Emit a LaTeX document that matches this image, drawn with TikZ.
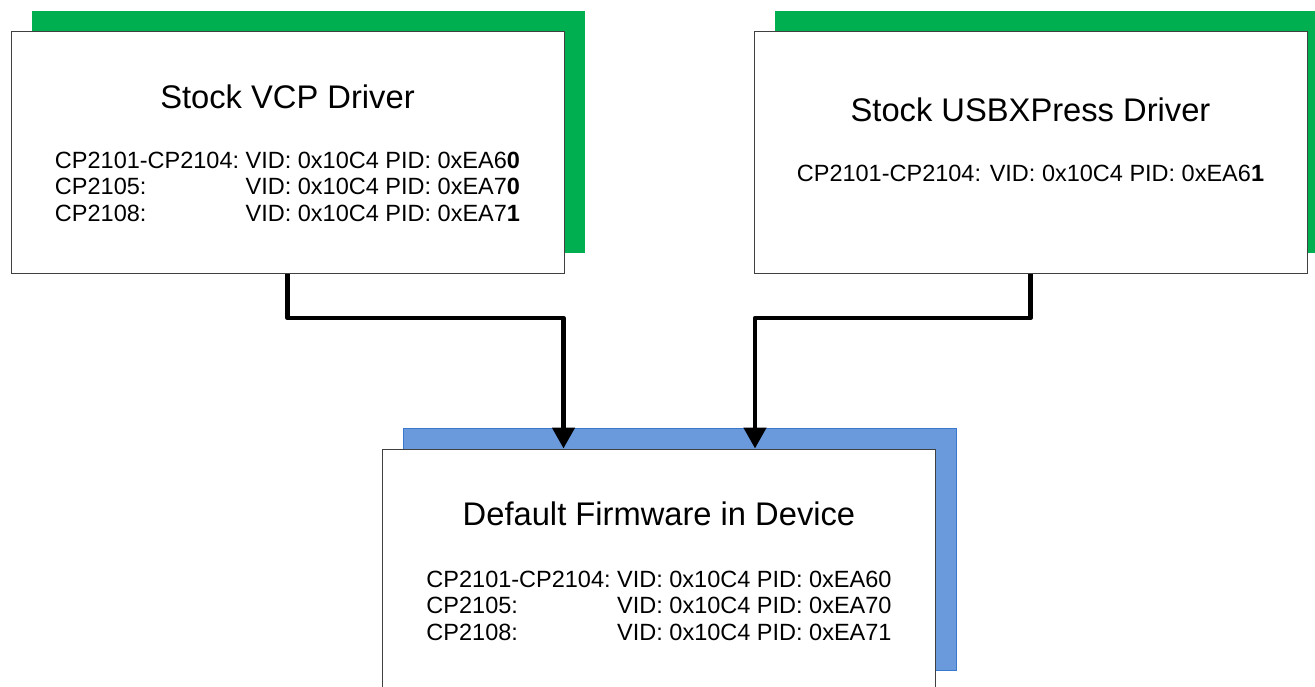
\documentclass[tikz,border=0pt]{standalone}
\usepackage{fontspec}
\setmainfont{Liberation Sans}
\usetikzlibrary{arrows.meta,shadows}

\definecolor{boxgreen}{RGB}{0,176,80}
\definecolor{boxblue}{RGB}{106,154,220}
\definecolor{edgeblue}{RGB}{58,120,205}

\tikzset{
  drvbox/.style={draw=black!75, line width=1pt, fill=white, minimum width=553pt,
    minimum height=242pt, inner sep=0pt},
  greenshadow/.style={general shadow={fill=boxgreen, shadow xshift=21pt, shadow yshift=21pt}},
  blueshadow/.style={general shadow={fill=boxblue, draw=edgeblue, line width=0.8pt,
    shadow xshift=21pt, shadow yshift=21pt}},
  boxtitle/.style={font=\fontsize{32.7}{39}\selectfont, inner sep=0pt},
  idlist/.style={font=\fontsize{23.5}{26.5}\selectfont, inner sep=0pt},
  link/.style={line width=4.7pt, line join=round, -{Triangle[width=22pt,length=21pt]}}
}

\begin{document}
\begin{tikzpicture}[x=1pt, y=-1pt]
  \useasboundingbox (0,0) rectangle (1315,687);

  % Draw the three boxes
  \node[drvbox, greenshadow] (vcp) at (287.5,153) {};
  \node[drvbox, greenshadow] (usbx) at (1030.5,153) {};
  \node[drvbox, blueshadow] (dev) at (659,570) {};

  % Stock VCP driver
  \node[boxtitle] (vcptitle) at ([yshift=-65pt]vcp.north) {Stock VCP Driver};
  \node[idlist] (vcpids) at ([yshift=-158pt]vcp.north) {%
    \begin{tabular}{@{}l@{\ }l@{}}
      CP2101-CP2104: & VID: 0x10C4 PID: 0xEA6\textbf{0}\\
      CP2105: & VID: 0x10C4 PID: 0xEA7\textbf{0}\\
      CP2108: & VID: 0x10C4 PID: 0xEA7\textbf{1}
    \end{tabular}};

  % Stock USBXPress driver
  \node[boxtitle] (usbxtitle) at ([yshift=-78pt]usbx.north) {Stock USBXPress Driver};
  \node[idlist] (usbxids) at ([yshift=-142pt]usbx.north)
    {CP2101-CP2104: VID: 0x10C4 PID: 0xEA6\textbf{1}};

  % Default firmware in the device
  \node[boxtitle] (devtitle) at ([yshift=-65pt]dev.north) {Default Firmware in Device};
  \node[idlist] (devids) at ([yshift=-160pt]dev.north) {%
    \begin{tabular}{@{}l@{\ }l@{}}
      CP2101-CP2104: & VID: 0x10C4 PID: 0xEA60\\
      CP2105: & VID: 0x10C4 PID: 0xEA70\\
      CP2108: & VID: 0x10C4 PID: 0xEA71
    \end{tabular}};

  % Connect both drivers to the device
  \coordinate (vcpin) at ([xshift=-95.5pt]dev.north);
  \coordinate (usbxin) at ([xshift=96pt]dev.north);
  \draw[link] (vcp.south) -- ++(0,43.5) -| (vcpin);
  \draw[link] (usbx.south) -- ++(0,43.5) -| (usbxin);
\end{tikzpicture}
\end{document}
